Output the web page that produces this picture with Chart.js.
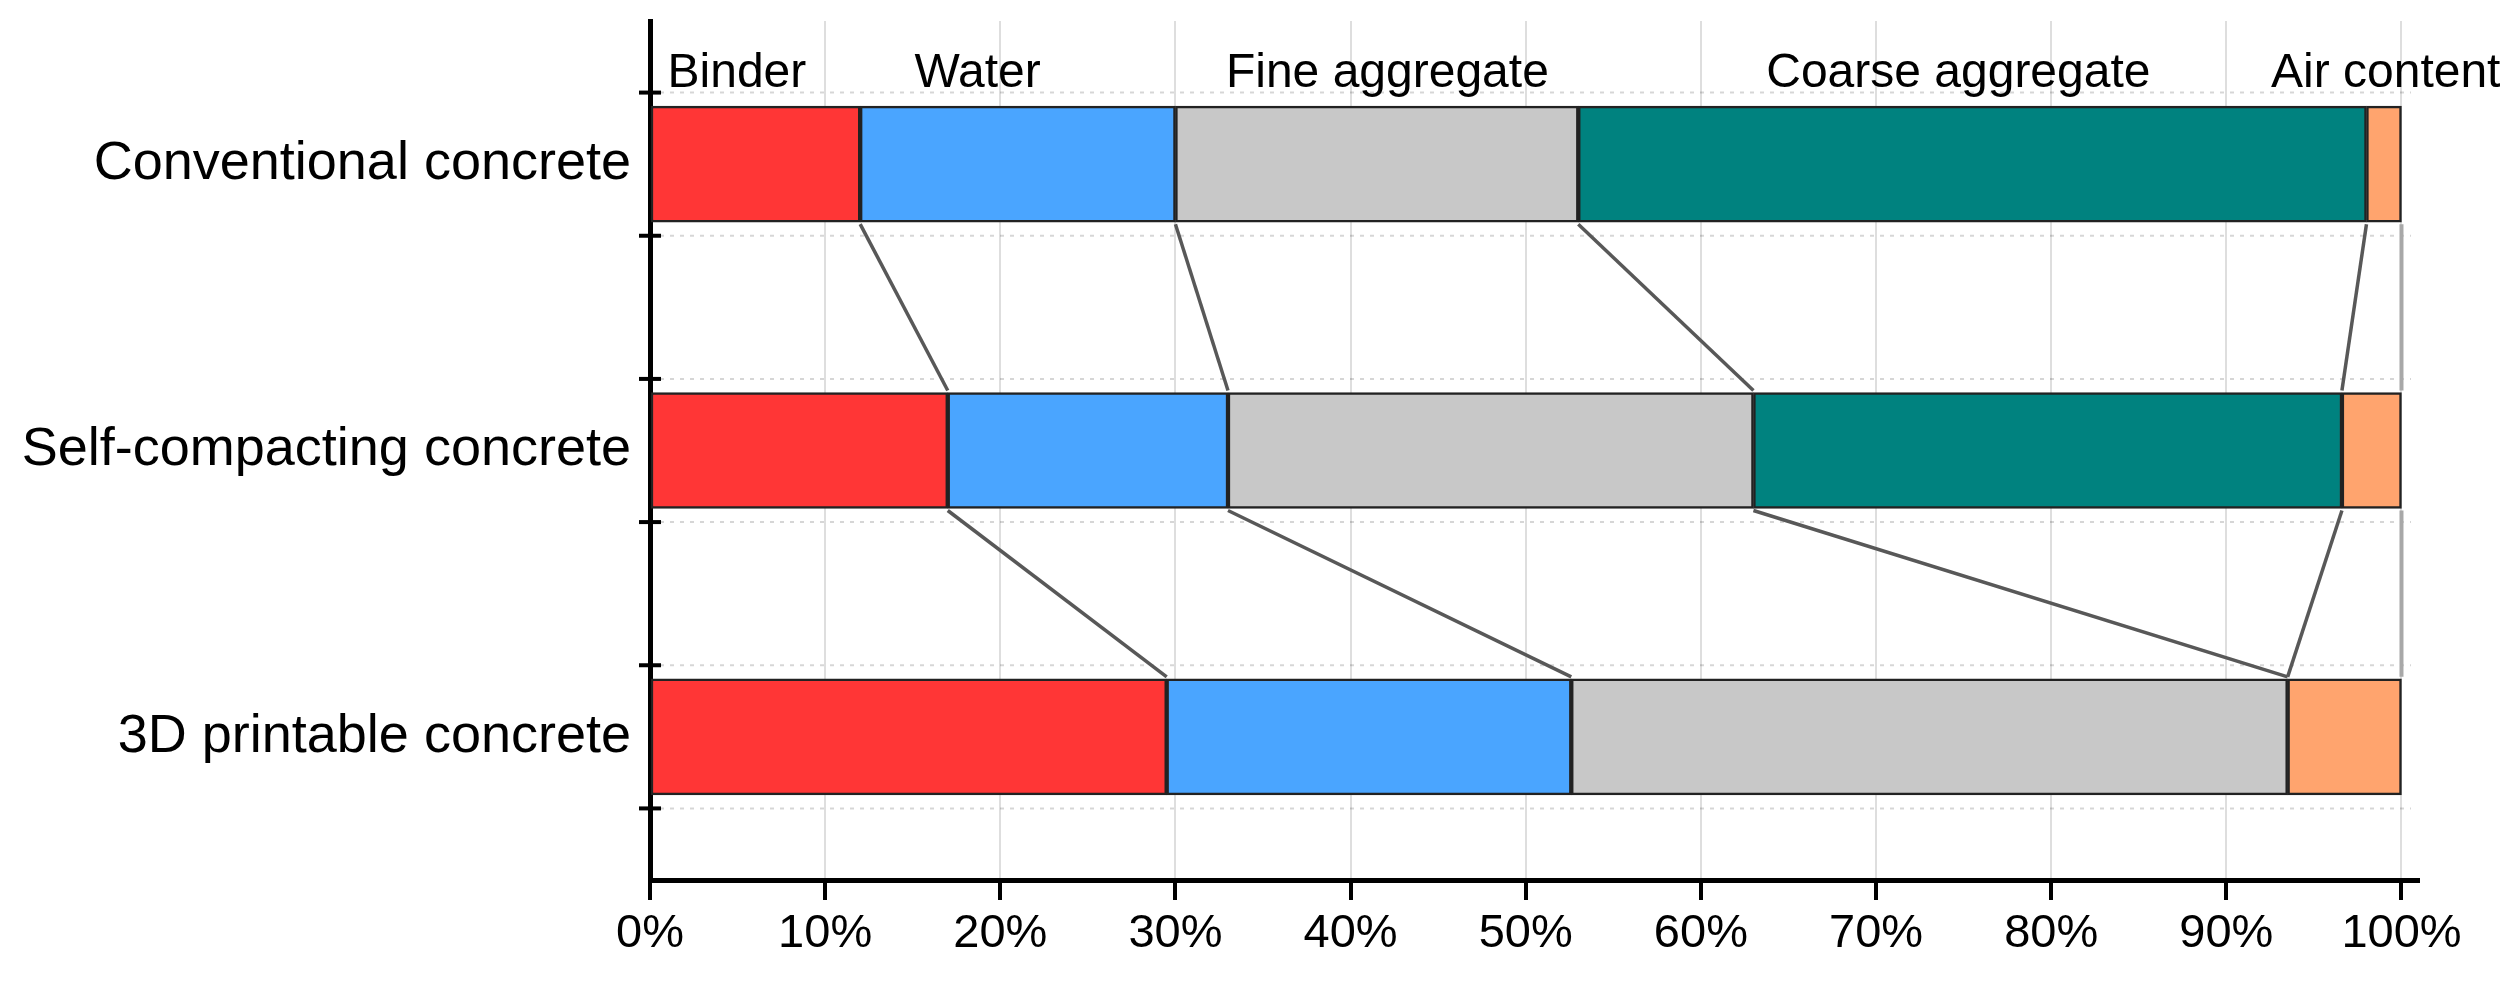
<!DOCTYPE html>
<html><head><meta charset="utf-8">
<script src="https://cdn.jsdelivr.net/npm/chart.js@4"></script>
<style>html,body{margin:0;padding:0;background:#fff;} canvas{display:block;}</style>
</head><body>
<canvas id="c" width="2518" height="981"></canvas>
<script>
// ---- data ----
const categories = ['Conventional concrete', 'Self-compacting concrete', '3D printable concrete'];
const components = ['Binder', 'Water', 'Fine aggregate', 'Coarse aggregate', 'Air content'];
const binder          = [12, 17, 29.5];
const water           = [18, 16, 23.1];
const fineAggregate   = [23, 30, 40.9];
const coarseAggregate = [45, 33.6, 0];
const airContent      = [2, 3.4, 6.5];
const xTickValues = [0, 10, 20, 30, 40, 50, 60, 70, 80, 90, 100];

const seriesValues = [binder, water, fineAggregate, coarseAggregate, airContent];
const colors = ['#FF3636', '#4AA5FF', '#C8C8C8', '#00827F', '#FFA46E'];

// header label anchors (in axis value units) and alignment
const headerCfg = { anchors: [1.0, 18.7, 42.1, 74.7, 99.1], align: ['left', 'center', 'center', 'center', 'center'] };

const FONT = '"Liberation Sans", Arial, sans-serif';

const decorPlugin = {
  id: 'decor',
  beforeDatasetsDraw(chart) {
    const { ctx, chartArea } = chart;
    const y = chart.scales.y;
    ctx.save();
    ctx.strokeStyle = 'rgba(0,0,0,0.16)';
    ctx.lineWidth = 2;
    ctx.setLineDash([4, 6]);
    for (let i = 0; i < categories.length; i++) {
      for (const d of [-0.25, 0.25]) {
        const py = y.getPixelForValue(i + d);
        ctx.beginPath();
        ctx.moveTo(chartArea.left, py);
        ctx.lineTo(chartArea.right - 8, py);
        ctx.stroke();
      }
    }
    ctx.restore();
  },
  afterDatasetsDraw(chart) {
    const { ctx } = chart;
    const x = chart.scales.x;
    const metas = seriesValues.map((_, k) => chart.getDatasetMeta(k));
    ctx.save();
    ctx.lineWidth = 3.5;
    for (let i = 0; i < categories.length - 1; i++) {
      const bar = metas[0].data[i], next = metas[0].data[i + 1];
      const yBottom = bar.y + bar.height / 2;
      const yTop = next.y - next.height / 2;
      let cumA = 0, cumB = 0;
      for (let k = 0; k < seriesValues.length; k++) {
        cumA += seriesValues[k][i];
        cumB += seriesValues[k][i + 1];
        const last = k === seriesValues.length - 1;
        ctx.strokeStyle = last ? '#a8a8a8' : '#585858';
        ctx.lineWidth = last ? 4 : 3.5;
        ctx.beginPath();
        ctx.moveTo(x.getPixelForValue(cumA), yBottom + 2);
        ctx.lineTo(x.getPixelForValue(cumB), yTop - 2);
        ctx.stroke();
      }
    }
    ctx.restore();
  },
  afterDraw(chart) {
    const { ctx, chartArea } = chart;
    const x = chart.scales.x, y = chart.scales.y;
    ctx.save();
    // y tick marks crossing the axis
    ctx.strokeStyle = '#000';
    ctx.lineWidth = 4;
    for (let i = 0; i < categories.length; i++) {
      for (const d of [-0.25, 0.25]) {
        const py = y.getPixelForValue(i + d);
        ctx.beginPath();
        ctx.moveTo(chartArea.left - 11, py);
        ctx.lineTo(chartArea.left + 11, py);
        ctx.stroke();
      }
    }
    // header labels
    ctx.fillStyle = '#000';
    ctx.font = '48px ' + FONT;
    ctx.textBaseline = 'alphabetic';
    components.forEach((name, k) => {
      ctx.textAlign = headerCfg.align[k];
      ctx.fillText(name, x.getPixelForValue(headerCfg.anchors[k]), 87);
    });
    ctx.restore();
  }
};

const datasets = components.map((name, k) => ({
  label: name,
  data: seriesValues[k],
  backgroundColor: colors[k],
  borderColor: '#222222',
  borderWidth: 2.5,
  borderSkipped: false,
  barThickness: 116
}));

new Chart(document.getElementById('c'), {
  type: 'bar',
  data: { labels: categories, datasets },
  options: {
    indexAxis: 'y',
    responsive: false,
    animation: false,
    devicePixelRatio: 1,
    layout: { padding: { top: 21, right: 99, bottom: 0, left: 0 } },
    plugins: { legend: { display: false }, tooltip: { enabled: false } },
    scales: {
      x: {
        type: 'linear', stacked: true, min: 0, max: 101, z: 1,
        afterBuildTicks: (s) => { s.ticks = xTickValues.map(v => ({ value: v })); },
        afterFit: (s) => { s.height = 101; },
        ticks: { callback: v => v + '%', color: '#000', font: { size: 47, family: FONT }, padding: 6, maxRotation: 0 },
        grid: { color: 'rgba(0,0,0,0.13)', lineWidth: 2, borderDash: [10, 5, 2, 5], drawTicks: true, tickLength: 20, tickWidth: 4, tickColor: '#000', tickBorderDash: [] },
        border: { display: true, color: '#000', width: 5 }
      },
      y: {
        type: 'category', stacked: true, offset: true,
        afterFit: (s) => { s.width = 650; s.paddingTop = 0; s.paddingBottom = 0; },
        ticks: { color: '#000', font: { size: 54, family: FONT }, padding: 19 },
        grid: { display: false, drawTicks: false },
        border: { display: true, color: '#000', width: 5 }
      }
    }
  },
  plugins: [decorPlugin]
});
</script>
</body></html>
